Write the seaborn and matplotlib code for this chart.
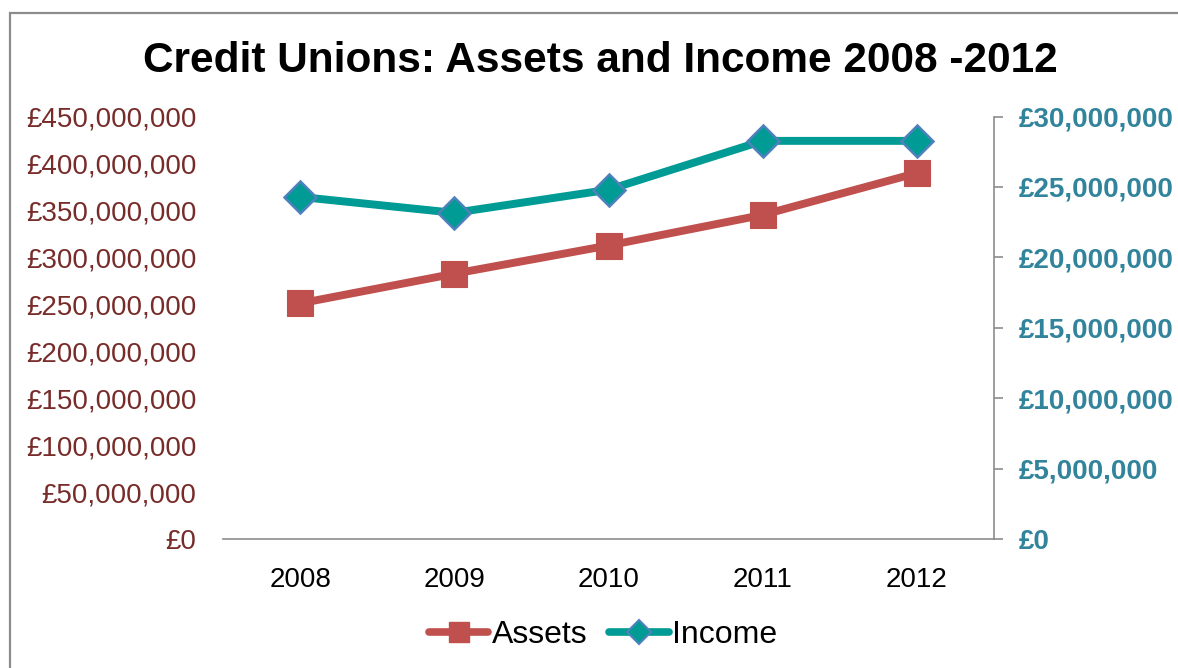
import matplotlib
matplotlib.use("Agg")
import matplotlib.pyplot as plt
from matplotlib.lines import Line2D
from matplotlib.patches import Rectangle
from matplotlib.ticker import FuncFormatter
import seaborn as sns
import pandas as pd

# Credit union totals by year
years = ["2008", "2009", "2010", "2011", "2012"]
assets = [251_000_000, 282_600_000, 312_600_000, 345_200_000, 389_800_000]
income = [24_290_000, 23_160_000, 24_800_000, 28_270_000, 28_270_000]

left_ticks = list(range(0, 450_000_001, 50_000_000))
right_ticks = list(range(0, 30_000_001, 5_000_000))

sns.set_style("white")
plt.rcParams["font.family"] = ["Liberation Sans", "DejaVu Sans"]

ASSET_RED = "#C0504D"
INCOME_TEAL = "#009B94"
DIAMOND_EDGE = "#4F81BD"
LEFT_TXT = "#772C2A"
RIGHT_TXT = "#31849B"
AXIS_GREY = "#8C8C8C"

df = pd.DataFrame({"Year": years, "Assets": assets, "Income": income})

fig = plt.figure(figsize=(11.78, 6.68), dpi=100)
ax = fig.add_axes([223 / 1178, 1 - 539 / 668, (994 - 223) / 1178, (539 - 116.5) / 668])
ax2 = ax.twinx()

sns.lineplot(data=df, x="Year", y="Assets", ax=ax, color=ASSET_RED, linewidth=5.7,
             marker="s", markersize=19, markeredgewidth=0.8, markeredgecolor=ASSET_RED,
             sort=False, legend=False)
sns.lineplot(data=df, x="Year", y="Income", ax=ax2, color=INCOME_TEAL, linewidth=5.7,
             marker="D", markersize=16, markeredgewidth=1.8, markeredgecolor=DIAMOND_EDGE,
             markerfacecolor=INCOME_TEAL, sort=False, legend=False)

ax.set_xlim(-0.5, len(years) - 0.5)
ax.set_ylim(0, 450_000_000)
ax2.set_ylim(0, 30_000_000)
ax.set_yticks(left_ticks)
ax2.set_yticks(right_ticks)

money = FuncFormatter(lambda v, _: "£0" if v == 0 else f"£{int(v):,}")
ax.yaxis.set_major_formatter(money)
ax2.yaxis.set_major_formatter(money)

ax.set_xlabel("")
ax.set_ylabel("")
ax2.set_ylabel("")

for side in ("top", "left", "right"):
    ax.spines[side].set_visible(False)
for side in ("top", "left", "bottom"):
    ax2.spines[side].set_visible(False)
ax.spines["bottom"].set_color(AXIS_GREY)
ax.spines["bottom"].set_linewidth(1.2)
ax2.spines["right"].set_color(AXIS_GREY)
ax2.spines["right"].set_linewidth(1.2)

ax.tick_params(axis="y", length=0, pad=19, labelsize=20, labelcolor=LEFT_TXT)
ax.tick_params(axis="x", length=0, pad=20, labelsize=20, labelcolor="#000000")
ax2.tick_params(axis="y", length=6.5, width=1.2, color=AXIS_GREY, pad=11.5,
                labelsize=20, labelcolor=RIGHT_TXT)
for lab in ax2.get_yticklabels():
    lab.set_fontweight("bold")

fig.text(600 / 1178, 1 - 61 / 668, "Credit Unions: Assets and Income 2008 -2012",
         ha="center", va="center", fontsize=30.5, fontweight="bold", color="black")

handles = [
    Line2D([], [], color=ASSET_RED, linewidth=5.5, marker="s", markersize=14,
           markeredgecolor=ASSET_RED, solid_capstyle="round"),
    Line2D([], [], color=INCOME_TEAL, linewidth=5.5, marker="D", markersize=12,
           markeredgecolor=DIAMOND_EDGE, markeredgewidth=1.5, solid_capstyle="round"),
]
fig.legend(handles, ["Assets", "Income"], loc="center", bbox_to_anchor=(603 / 1178, 1 - 635 / 668),
           ncol=2, frameon=False, fontsize=23, handlelength=1.85, handletextpad=0.1,
           columnspacing=0.7, labelcolor="#000000")

# outer chart frame
fig.patches.append(Rectangle((10 / 1178, -0.05), 1.2, 1 - 13 / 668 + 0.05,
                             transform=fig.transFigure, fill=False,
                             edgecolor=AXIS_GREY, linewidth=1.6))

fig.savefig("out.png", dpi=100)
